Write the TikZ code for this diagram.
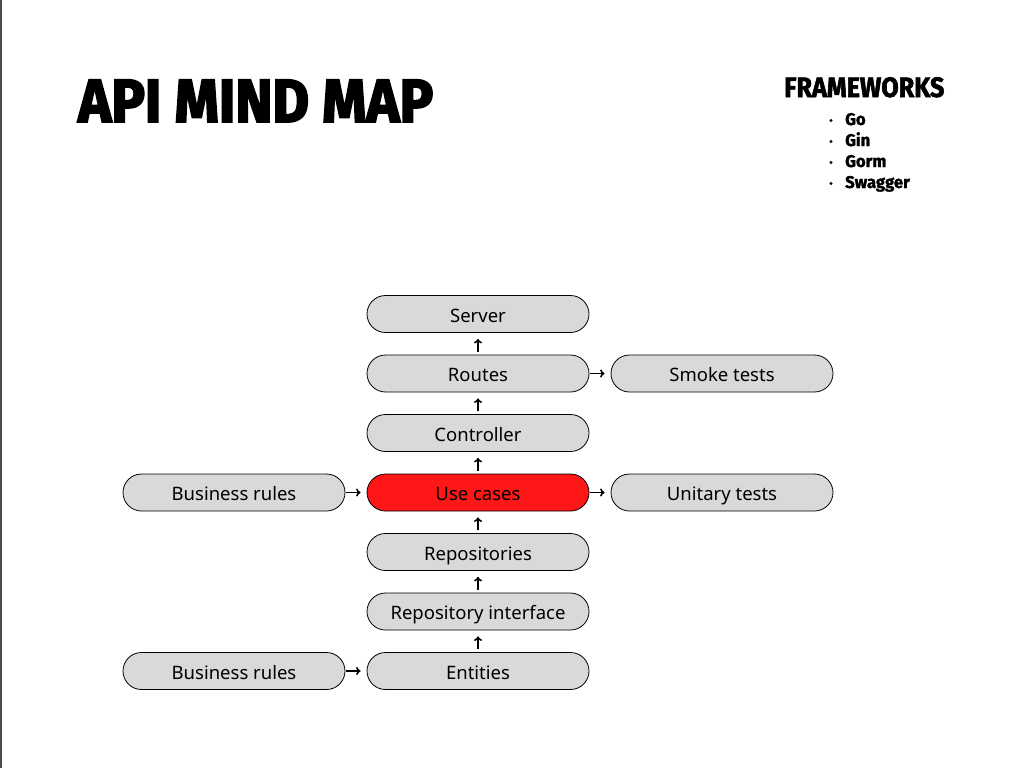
\documentclass[tikz,border=0pt]{standalone}
\usepackage{fontspec}
\usetikzlibrary{arrows.meta}
\setmainfont{Noto Sans}
\newfontfamily\titlefont[FakeStretch=0.92, BoldFeatures={FakeBold=3}]{Fira Sans}
\newfontfamily\headfont[FakeStretch=0.9, BoldFeatures={FakeBold=2}]{Fira Sans}
\newfontfamily\listfont[FakeStretch=0.98, BoldFeatures={FakeBold=1.5}]{Fira Sans}
\definecolor{boxgray}{HTML}{D9D9D9}
\definecolor{boxred}{HTML}{FF1616}
\tikzset{
  layer/.style={draw=black, line width=0.8pt, fill=boxgray, rounded corners=18.5pt,
    minimum width=222pt, minimum height=37pt, inner sep=0pt, text height=16pt, text depth=0pt,
    font=\fontsize{18.5}{20}\selectfont},
  link/.style={-{To[length=4.5pt, width=8pt]}, line width=1.6pt, shorten <=3pt, shorten >=6pt}
}
\begin{document}
\begin{tikzpicture}[x=1pt, y=-1pt]
  \useasboundingbox (0,0) rectangle (1025,768);
  \fill[white] (0,0) rectangle (1025,768);
  \draw[black!70, line width=1.5pt] (0.75,0) -- (0.75,768);

  % Titles
  \node[anchor=base west, inner sep=0pt, font=\titlefont\bfseries\fontsize{61}{61}\selectfont] (title) at (78,122) {API MIND MAP};
  \node[anchor=base west, inner sep=0pt, font=\headfont\bfseries\fontsize{28}{28}\selectfont] (fw) at (784,97) {FRAMEWORKS};

  % Framework list
  \foreach \name [count=\i] in {Go, Gin, Gorm, Swagger} {
    \fill (831,125+21*\i-21-4.5) circle (1.6pt);
    \node[anchor=base west, inner sep=0pt, font=\listfont\bfseries\fontsize{17}{17}\selectfont] (fw\i) at (845,125+21*\i-21) {\name};
  }

  % Center column
  \node[layer] (server) at (478,314) {Server};
  \node[layer] (routes) at (478,373.5) {Routes};
  \node[layer] (controller) at (478,433) {Controller};
  \node[layer, fill=boxred] (usecases) at (478,492.5) {Use cases};
  \node[layer] (repos) at (478,552) {Repositories};
  \node[layer] (repoint) at (478,611.5) {Repository interface};
  \node[layer] (entities) at (478,671) {Entities};

  % Side nodes
  \node[layer] (smoke) at (722,373.5) {Smoke tests};
  \node[layer] (unitary) at (722,492.5) {Unitary tests};
  \node[layer] (rules1) at (234,492.5) {Business rules};
  \node[layer] (rules2) at (234,671) {Business rules};

  % Arrows
  \draw[link] (routes) -- (server);
  \draw[link] (controller) -- (routes);
  \draw[link] (usecases) -- (controller);
  \draw[link] (repos) -- (usecases);
  \draw[link] (repoint) -- (repos);
  \draw[link] (entities) -- (repoint);
  \draw[link, shorten <=1pt] (routes) -- (smoke);
  \draw[link, shorten <=1pt] (usecases) -- (unitary);
  \draw[link, shorten <=1pt] (rules1) -- (usecases);
  \draw[link, shorten <=1pt] (rules2) -- (entities);
\end{tikzpicture}
\end{document}
